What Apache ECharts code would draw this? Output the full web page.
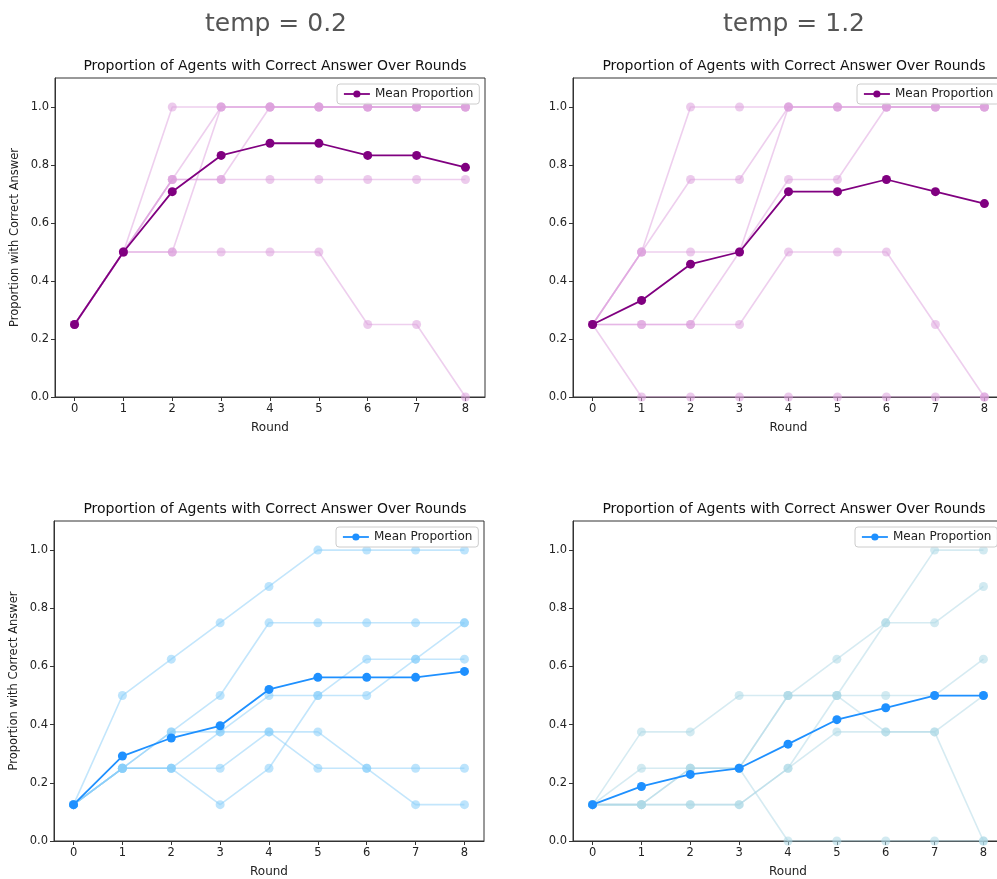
<!DOCTYPE html>
<html>
<head>
<meta charset="utf-8">
<script src="https://cdn.jsdelivr.net/npm/echarts@6/dist/echarts.min.js"></script>
<style>html,body{margin:0;padding:0;background:#fff;overflow:hidden;width:997px;height:879px}#c{width:1008px;height:879px}</style>
</head>
<body>
<div id="c"></div>
<script>
const rounds = [0, 1, 2, 3, 4, 5, 6, 7, 8];
const yTicks = [0, 0.2, 0.4, 0.6, 0.8, 1.0];
const suptitles = ['temp = 0.2', 'temp = 1.2'];
const panelTitle = 'Proportion of Agents with Correct Answer Over Rounds';

// temp = 0.2, top panel (purple)
const p1Agents = [
  [0.25, 0.5, 1.0, 1.0, 1.0, 1.0, 1.0, 1.0, 1.0],
  [0.25, 0.5, 0.75, 1.0, 1.0, 1.0, 1.0, 1.0, 1.0],
  [0.25, 0.5, 0.5, 1.0, 1.0, 1.0, 1.0, 1.0, 1.0],
  [0.25, 0.5, 0.75, 0.75, 1.0, 1.0, 1.0, 1.0, 1.0],
  [0.25, 0.5, 0.75, 0.75, 0.75, 0.75, 0.75, 0.75, 0.75],
  [0.25, 0.5, 0.5, 0.5, 0.5, 0.5, 0.25, 0.25, 0.0]
];
const p1Mean = [0.25, 0.5, 0.708, 0.833, 0.875, 0.875, 0.833, 0.833, 0.792];

// temp = 1.2, top panel (purple)
const p2Agents = [
  [0.25, 0.5, 1.0, 1.0, 1.0, 1.0, 1.0, 1.0, 1.0],
  [0.25, 0.5, 0.75, 0.75, 1.0, 1.0, 1.0, 1.0, 1.0],
  [0.25, 0.5, 0.5, 0.5, 1.0, 1.0, 1.0, 1.0, 1.0],
  [0.25, 0.25, 0.25, 0.5, 0.75, 0.75, 1.0, 1.0, 1.0],
  [0.25, 0.25, 0.25, 0.25, 0.5, 0.5, 0.5, 0.25, 0.0],
  [0.25, 0.0, 0.0, 0.0, 0.0, 0.0, 0.0, 0.0, 0.0]
];
const p2Mean = [0.25, 0.333, 0.458, 0.5, 0.708, 0.708, 0.75, 0.708, 0.667];

// temp = 0.2, bottom panel (blue)
const p3Agents = [
  [0.125, 0.5, 0.625, 0.75, 0.875, 1.0, 1.0, 1.0, 1.0],
  [0.125, 0.25, 0.375, 0.5, 0.75, 0.75, 0.75, 0.75, 0.75],
  [0.125, 0.25, 0.375, 0.375, 0.5, 0.5, 0.5, 0.625, 0.75],
  [0.125, 0.25, 0.25, 0.125, 0.25, 0.5, 0.625, 0.625, 0.625],
  [0.125, 0.25, 0.25, 0.375, 0.375, 0.375, 0.25, 0.125, 0.125],
  [0.125, 0.25, 0.25, 0.25, 0.375, 0.25, 0.25, 0.25, 0.25]
];
const p3Mean = [0.125, 0.292, 0.354, 0.396, 0.521, 0.5625, 0.5625, 0.5625, 0.583];

// temp = 1.2, bottom panel (blue)
const p4Agents = [
  [0.125, 0.375, 0.375, 0.5, 0.5, 0.5, 0.5, 0.5, 0.625],
  [0.125, 0.25, 0.25, 0.25, 0.5, 0.625, 0.75, 0.75, 0.875],
  [0.125, 0.125, 0.125, 0.125, 0.25, 0.5, 0.75, 1.0, 1.0],
  [0.125, 0.125, 0.125, 0.125, 0.25, 0.375, 0.375, 0.375, 0.5],
  [0.125, 0.125, 0.25, 0.25, 0.0, 0.0, 0.0, 0.0, 0.0],
  [0.125, 0.125, 0.25, 0.25, 0.5, 0.5, 0.375, 0.375, 0.0]
];
const p4Mean = [0.125, 0.1875, 0.229, 0.25, 0.333, 0.417, 0.458, 0.5, 0.5];

const panels = [
  {agents: p1Agents, mean: p1Mean, agentColor: '#DDA0DD', meanColor: '#800080',
   grid: {left: 55, width: 430, top: 78, height: 319}, yName: true, legend: {left: 337, top: 84}},
  {agents: p2Agents, mean: p2Mean, agentColor: '#DDA0DD', meanColor: '#800080',
   grid: {left: 573, width: 431, top: 78, height: 319}, yName: false, legend: {left: 857, top: 84}},
  {agents: p3Agents, mean: p3Mean, agentColor: '#87CEFA', meanColor: '#1E90FF',
   grid: {left: 54, width: 430, top: 521, height: 321}, yName: true, legend: {left: 336, top: 527}},
  {agents: p4Agents, mean: p4Mean, agentColor: '#ADD8E6', meanColor: '#1E90FF',
   grid: {left: 573, width: 430, top: 521, height: 321}, yName: false, legend: {left: 855, top: 527}}
];

const FONT = 'DejaVu Sans';
const grids = [], xAxes = [], yAxes = [], series = [], legends = [], titles = [];

titles.push({text: suptitles[0], left: 271, top: 7, textAlign: 'center',
  textStyle: {fontFamily: FONT, fontSize: 25, fontWeight: 'normal', color: '#555'}});
titles.push({text: suptitles[1], left: 789, top: 7, textAlign: 'center',
  textStyle: {fontFamily: FONT, fontSize: 25, fontWeight: 'normal', color: '#555'}});

panels.forEach((p, i) => {
  const g = p.grid;
  grids.push(Object.assign({show: true, borderColor: '#333', borderWidth: 1, backgroundColor: '#fff'}, g));
  const cx = i % 2 === 0 ? 270 : 789;
  titles.push({text: panelTitle, left: cx, top: g.top - 24, textAlign: 'center',
    textStyle: {fontFamily: FONT, fontSize: 14, fontWeight: 'normal', color: '#111'}});
  xAxes.push({type: 'value', gridIndex: i, min: -0.4, max: 8.4,
    name: 'Round', nameLocation: 'middle', nameGap: 25,
    nameTextStyle: {fontFamily: FONT, fontSize: 12, color: '#222'},
    axisLine: {show: true, onZero: false, lineStyle: {color: '#333'}},
    axisTick: {show: true, length: 4, customValues: rounds, lineStyle: {color: '#333'}},
    axisLabel: {customValues: rounds, fontFamily: FONT, fontSize: 11.5, color: '#222', margin: 6},
    splitLine: {show: false}});
  yAxes.push({type: 'value', gridIndex: i, min: 0, max: 1.1,
    name: p.yName ? 'Proportion with Correct Answer' : '', nameLocation: 'middle', nameGap: 34,
    nameTextStyle: {fontFamily: FONT, fontSize: 11.5, color: '#222'},
    axisLine: {show: true, onZero: false, lineStyle: {color: '#333'}},
    axisTick: {show: true, length: 4, customValues: yTicks, lineStyle: {color: '#333'}},
    axisLabel: {customValues: yTicks, fontFamily: FONT, fontSize: 11.5, color: '#222', margin: 6,
      formatter: v => v.toFixed(1)},
    splitLine: {show: false}});
  p.agents.forEach((a, k) => {
    series.push({type: 'line', name: 'Agent ' + (k + 1), xAxisIndex: i, yAxisIndex: i,
      data: rounds.map((r, j) => [r, a[j]]), symbol: 'circle', symbolSize: 9,
      lineStyle: {color: p.agentColor, width: 1.6, opacity: 0.5},
      itemStyle: {color: p.agentColor, opacity: 0.55}, z: 2, silent: true});
  });
  series.push({type: 'line', name: 'Mean Proportion', xAxisIndex: i, yAxisIndex: i,
    data: rounds.map((r, j) => [r, p.mean[j]]), symbol: 'circle', symbolSize: 9,
    lineStyle: {color: p.meanColor, width: 1.8}, itemStyle: {color: p.meanColor}, z: 5});
  legends.push({left: p.legend.left, top: p.legend.top, orient: 'vertical',
    data: [{name: 'Mean Proportion', itemStyle: {color: p.meanColor}, lineStyle: {color: p.meanColor, width: 1.8}}],
    backgroundColor: 'rgba(255,255,255,0.85)', borderColor: '#ccc', borderWidth: 1, borderRadius: 3,
    padding: [4, 6, 4, 6], itemWidth: 26, itemHeight: 9, itemGap: 6,
    textStyle: {fontFamily: FONT, fontSize: 12, color: '#222'}, selectedMode: false});
});

const chart = echarts.init(document.getElementById('c'), null, {renderer: 'canvas'});
chart.setOption({animation: false, backgroundColor: '#fff', title: titles, grid: grids,
  xAxis: xAxes, yAxis: yAxes, series: series, legend: legends});
</script>
</body>
</html>
